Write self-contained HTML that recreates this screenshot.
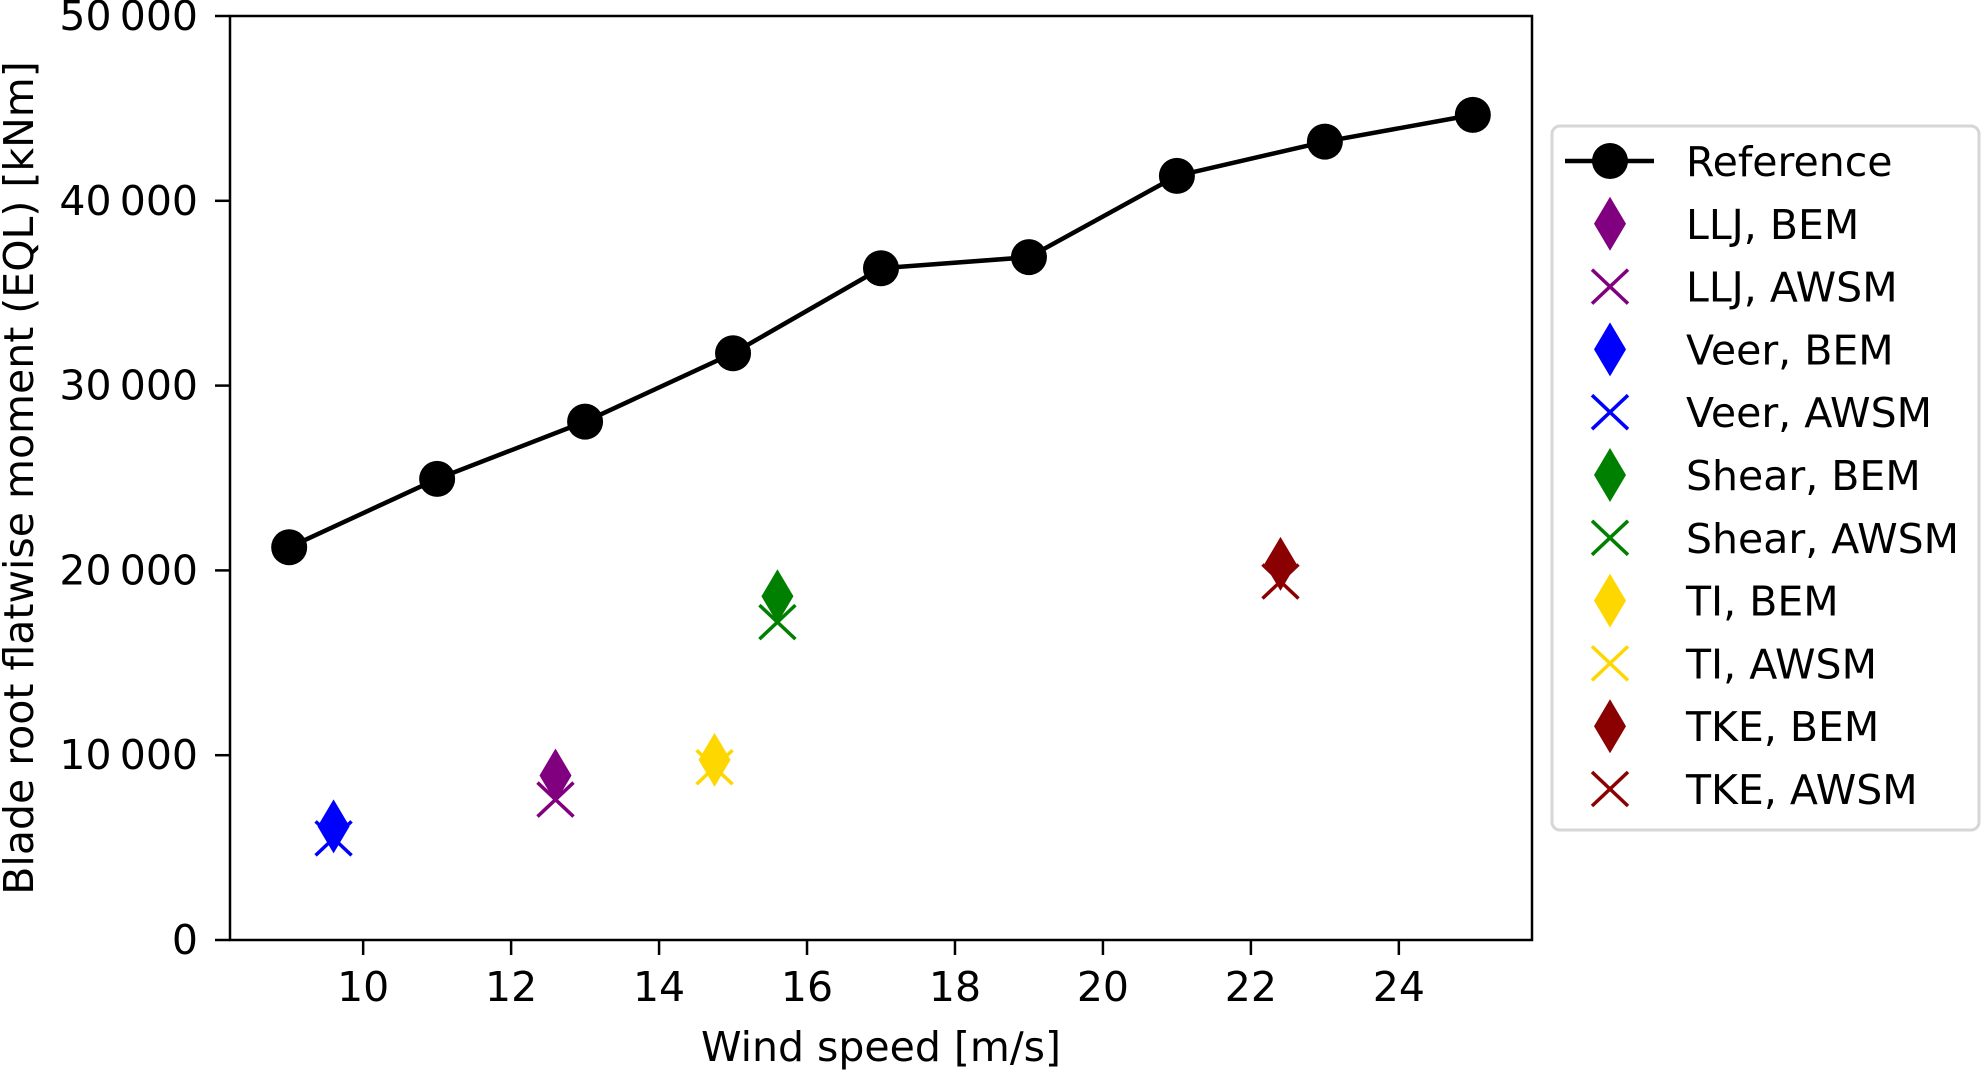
<!DOCTYPE html>
<html><head><meta charset="utf-8"><style>
html,body{margin:0;padding:0;background:#fff}
svg{display:block}
text{font-family:"DejaVu Sans","Liberation Sans",sans-serif;fill:#000}
</style></head><body>
<svg id="chart" width="1982" height="1070" viewBox="0 0 1982 1070" xmlns="http://www.w3.org/2000/svg">
<g id="plot"></g>
<g id="legend"></g>
</svg>
<script>
const refX = [9, 11, 13, 15, 17, 19, 21, 23, 25];
const refY = [21250, 24950, 28050, 31750, 36350, 36950, 41350, 43200, 44650];
const seriesNames = ["LLJ", "Veer", "Shear", "TI", "TKE"];
const seriesX = [12.6, 9.6, 15.6, 14.75, 22.4];
const bemY = [8900, 6150, 18600, 9750, 20350];
const awsmY = [7600, 5500, 17200, 9350, 19400];
const seriesColors = ["#800080", "#0000ff", "#008000", "#ffd700", "#8b0000"];
const xTicks = [10, 12, 14, 16, 18, 20, 22, 24];
const yTicks = [0, 10000, 20000, 30000, 40000, 50000];
const yTickLabels = ["0", "10\u2009000", "20\u2009000", "30\u2009000", "40\u2009000", "50\u2009000"];

const NS = "http://www.w3.org/2000/svg";
const L = 230, R = 1532, T = 16, B = 940;
const xMin = 8.2, xMax = 25.8, yMin = 0, yMax = 50000;
function sx(v){return L + (v - xMin) / (xMax - xMin) * (R - L);}
function sy(v){return B - (v - yMin) / (yMax - yMin) * (B - T);}
function mk(tag, attrs, parent){const e=document.createElementNS(NS,tag);for(const k in attrs)e.setAttribute(k,attrs[k]);parent.appendChild(e);return e;}
const plot = document.getElementById('plot');
const leg = document.getElementById('legend');

function diamond(cx, cy, color, parent){
  return mk('polygon',{points:`${cx},${cy-27} ${cx+16},${cy} ${cx},${cy+27} ${cx-16},${cy}`,fill:color},parent);
}
function cross(cx, cy, color, parent){
  const g = mk('g',{},parent);
  mk('line',{x1:cx-18,y1:cy-17,x2:cx+18,y2:cy+17,stroke:color,'stroke-width':3.5},g);
  mk('line',{x1:cx-18,y1:cy+17,x2:cx+18,y2:cy-17,stroke:color,'stroke-width':3.5},g);
  return g;
}

xTicks.forEach((v,i)=>{
  const t = mk('line',{x1:sx(v),y1:B,x2:sx(v),y2:B+15,stroke:'#000','stroke-width':2.5},plot);
  
  
  const lb = mk('text',{x:sx(v),y:1001,'text-anchor':'middle','font-size':41},plot);
  lb.textContent = String(v);
  
  
});
yTicks.forEach((v,i)=>{
  const t = mk('line',{x1:L-15,y1:sy(v),x2:L,y2:sy(v),stroke:'#000','stroke-width':2.5},plot);
  
  
  const lb = mk('text',{x:198,y:sy(v)+14,'text-anchor':'end','font-size':41},plot);
  lb.textContent = yTickLabels[i];
  
  
});

const pts = refX.map((x,i)=>sx(x)+','+sy(refY[i])).join(' ');
const pl = mk('polyline',{points:pts,fill:'none',stroke:'#000','stroke-width':4.5},plot);


refX.forEach((x,i)=>{
  const c = mk('circle',{cx:sx(x),cy:sy(refY[i]),r:18,fill:'#000'},plot);
  
  
});

seriesNames.forEach((n,i)=>{
  const d = diamond(sx(seriesX[i]), sy(bemY[i]), seriesColors[i], plot);
  
  
  const c = cross(sx(seriesX[i]), sy(awsmY[i]), seriesColors[i], plot);
  
  
});

const fr = mk('rect',{x:L,y:T,width:R-L,height:B-T,fill:'none',stroke:'#000','stroke-width':2.5},plot);



const xt = mk('text',{x:(L+R)/2,y:1061,'text-anchor':'middle','font-size':41},plot);
xt.textContent = 'Wind speed [m/s]';


const yt = mk('text',{x:0,y:0,'text-anchor':'middle','font-size':41,transform:`translate(33,${(T+B)/2}) rotate(-90)`},plot);
yt.textContent = 'Blade root flatwise moment (EQL) [kNm]';



const box = mk('rect',{x:1552,y:126,width:427,height:704,rx:8,fill:'#fff',stroke:'#d6d6d6','stroke-width':3},leg);


const labels = ["Reference"];
seriesNames.forEach(n=>{labels.push(n+", BEM");labels.push(n+", AWSM");});
labels.forEach((lab,i)=>{
  const cy = 161 + i*62.8;
  const g = mk('g',{},leg);
  
  
  if(i===0){
    mk('line',{x1:1565,y1:cy,x2:1654,y2:cy,stroke:'#000','stroke-width':4.5},g);
    mk('circle',{cx:1610,cy:cy,r:18,fill:'#000'},g);
  } else {
    const si = Math.floor((i-1)/2);
    if((i-1)%2===0) diamond(1610,cy,seriesColors[si],g); else cross(1610,cy,seriesColors[si],g);
  }
  const t = mk('text',{x:1686,y:cy+15,'font-size':41},g);
  t.textContent = lab;
});
</script>
</body></html>
